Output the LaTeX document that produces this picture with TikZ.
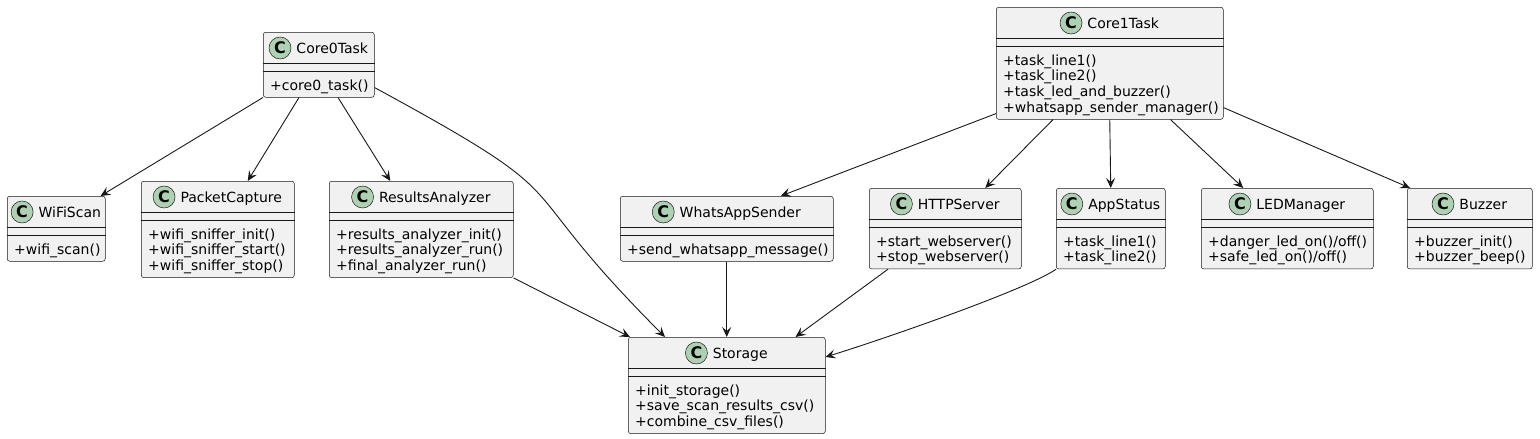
\documentclass[tikz,border=0pt]{standalone}
\usepackage{fontspec}
\setmainfont{DejaVu Sans}
\usepackage{xcolor}
\usepackage{tikz}
\usetikzlibrary{
  arrows.meta,
  positioning
}
\definecolor{umlline}{RGB}{24, 24, 24}
\definecolor{umlfill}{RGB}{241, 241, 241}
\definecolor{spotgreen}{RGB}{173, 209, 178}

\tikzset{
  classbox/.style={draw=umlline, fill=umlfill, line width=0.5pt,
                   rounded corners=2.5pt, inner sep=0pt},
  classline/.style={draw=umlline, line width=0.5pt},
  classname/.style={inner sep=0pt, text height=13.2pt, text depth=3pt,
                    font=\fontsize{14}{15.7}\selectfont},
  spot/.style={circle, draw=umlline, fill=spotgreen, line width=0.5pt,
               minimum size=22pt, inner sep=0pt,
               font=\fontsize{16}{16}\selectfont\bfseries},
  method/.style={anchor=base west, inner sep=0pt,
                 font=\fontsize{14}{15.7}\selectfont},
  dep/.style={draw=umlline, line width=0.9pt,
              -{Stealth[length=10pt, width=9pt, inset=4pt]}}
}

% #1 id, #2 title, #3 north west corner, #4 width, #5 number of methods, #6 methods
\newcommand{\umlclass}[6]{%
  \node[classbox, anchor=north west, minimum width=#4pt,
        minimum height={65pt+15.7pt*(#5-1)}] (#1) at #3 {};
  \draw[classline] ([yshift=-31pt]#1.north west) -- ([yshift=-31pt]#1.north east);
  \draw[classline] ([yshift=-39.5pt]#1.north west) -- ([yshift=-39.5pt]#1.north east);
  \node[classname] (#1-name) at ([xshift=13.5pt, yshift=-16pt]#1.north) {#2};
  \node[spot, left=5pt of #1-name] (#1-spot) {C};
  \foreach \m [count=\i] in {#6}
    \node[method] (#1-m\i) at ([xshift=7pt, yshift={-58pt-15.7pt*(\i-1)}]#1.north west) {\m};
}

\begin{document}
\begin{tikzpicture}[x=1pt, y=-1pt]
\useasboundingbox (0,0) rectangle (1540,439);

% core 0 side
\umlclass{core0}{Core0Task}{(263,32)}{111}{1}{+core0\_task()}
\umlclass{wifiscan}{WiFiScan}{(7,196)}{98}{1}{+wifi\_scan()}
\umlclass{capture}{PacketCapture}{(141,181)}{153}{3}
  {+wifi\_sniffer\_init(), +wifi\_sniffer\_start(), +wifi\_sniffer\_stop()}
\umlclass{analyzer}{ResultsAnalyzer}{(329,181)}{184}{3}
  {+results\_analyzer\_init(), +results\_analyzer\_run(), +final\_analyzer\_run()}

% core 1 side
\umlclass{core1}{Core1Task}{(996,7)}{227}{4}
  {+task\_line1(), +task\_line2(), +task\_led\_and\_buzzer(), +whatsapp\_sender\_manager()}
\umlclass{whatsapp}{WhatsAppSender}{(620,196)}{213}{1}{+send\_whatsapp\_message()}
\umlclass{httpserver}{HTTPServer}{(869,188)}{152}{2}
  {+start\_webserver(), +stop\_webserver()}
\umlclass{appstatus}{AppStatus}{(1056,188)}{109}{2}
  {+task\_line1(), +task\_line2()}
\umlclass{ledmgr}{LEDManager}{(1201,188)}{172}{2}
  {+danger\_led\_on()/off(), +safe\_led\_on()/off()}
\umlclass{buzzer}{Buzzer}{(1407,188)}{125}{2}
  {+buzzer\_init(), +buzzer\_beep()}

\umlclass{storage}{Storage}{(628,337)}{197}{3}
  {+init\_storage(), +save\_scan\_results\_csv(), +combine\_csv\_files()}

% dependencies
\draw[dep] (core0.south west) -- ([xshift=-5pt]wifiscan.north east);
\draw[dep] ([xshift=36pt]core0.south west) -- ([xshift=30pt]capture.north);
\draw[dep] ([xshift=75pt]core0.south west) -- ([xshift=-31pt]analyzer.north);
\draw[dep] ([yshift=10pt]core0.south east) .. controls (594,207) and (499,171)
  .. ([xshift=37pt]storage.north west);

\draw[dep] ([yshift=6pt]core1.south west) -- ([xshift=54pt]whatsapp.north);
\draw[dep] ([xshift=57pt]core1.south west) -- ([xshift=40pt]httpserver.north);
\draw[dep] (core1.south) -- (appstatus.north);
\draw[dep] ([xshift=-53pt]core1.south east) -- ([xshift=-44pt]ledmgr.north);
\draw[dep] ([yshift=12pt]core1.south east) -- ([xshift=3pt]buzzer.north west);

\draw[dep] (analyzer.south east) -- ([xshift=2pt]storage.north west);
\draw[dep] (whatsapp.south) -- (storage.north);
\draw[dep] ([xshift=19pt]httpserver.south west) -- ([xshift=-30pt]storage.north east);
\draw[dep] (appstatus.south west) .. controls (1030,288) and (890,337)
  .. ([yshift=-20pt]storage.north east);
\end{tikzpicture}
\end{document}
